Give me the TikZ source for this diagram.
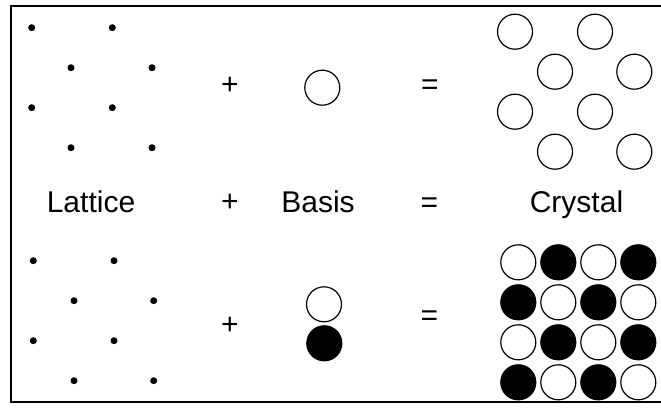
\documentclass[tikz,border=0pt]{standalone}
\usepackage{fontspec}
\setmainfont{Liberation Sans}
\begin{document}
\begin{tikzpicture}[x=1pt,y=-1pt,
  dot/.style={circle,fill=black,inner sep=0pt,minimum size=7pt},
  atom/.style={circle,draw=black,line width=1.2pt,inner sep=0pt,minimum size=35pt},
  batom/.style={atom,fill=black},
  lbl/.style={font=\fontsize{30}{36}\selectfont,inner sep=0pt},
  frameline/.style={line width=2.5pt,line join=miter}]
\useasboundingbox (0,0) rectangle (661,412);
\draw[frameline] (672,6) -- (11,6) -- (11,402) -- (672,402);

% top lattice
\foreach \y [count=\r] in {27.7,67.7,107.7,147.7}{
  \ifodd\r
    \node[dot] (tl\r a) at (31.7,\y) {};
    \node[dot] (tl\r b) at (112.3,\y) {};
  \else
    \node[dot] (tl\r a) at (71,\y) {};
    \node[dot] (tl\r b) at (152,\y) {};
  \fi
}
% bottom lattice
\foreach \y [count=\r] in {260.7,300.7,340.7,380.7}{
  \ifodd\r
    \node[dot] (bl\r a) at (33.3,\y) {};
    \node[dot] (bl\r b) at (114,\y) {};
  \else
    \node[dot] (bl\r a) at (74,\y) {};
    \node[dot] (bl\r b) at (153.7,\y) {};
  \fi
}
% top crystal
\foreach \y [count=\r] in {31.7,71.7,111.7,151.7}{
  \ifodd\r
    \node[atom] (tc\r a) at (515,\y) {};
    \node[atom] (tc\r b) at (595,\y) {};
  \else
    \node[atom] (tc\r a) at (555,\y) {};
    \node[atom] (tc\r b) at (634.3,\y) {};
  \fi
}
% bottom crystal
\foreach \y [count=\r] in {262.3,302.3,342.3,382.3}{
  \foreach \x [count=\c] in {518.3,558.3,598.3,638.3}{
    \pgfmathparse{int(mod(\r+\c,2))}
    \ifnum\pgfmathresult=0
      \node[atom] (bc\r\c) at (\x,\y) {};
    \else
      \node[batom] (bc\r\c) at (\x,\y) {};
    \fi
  }
}
% basis
\node[atom] (basisA) at (322.3,87.7) {};
\node[atom] (basisW) at (324,304.3) {};
\node[batom] (basisB) at (324.3,343.3) {};

% operators
\node[lbl] (plus1) at (230,86) {+};
\node[lbl] (plus2) at (230,203) {+};
\node[lbl] (plus3) at (230,326) {+};
\node[lbl] (eq1) at (430,87) {=};
\node[lbl] (eq2) at (429.5,205) {=};
\node[lbl] (eq3) at (429.5,318) {=};

% labels
\node[lbl,anchor=base] (lattice) at (91,212) {Lattice};
\node[lbl,anchor=base] (basis) at (318,212) {Basis};
\node[lbl,anchor=base] (crystal) at (576.5,212) {Crystal};
\end{tikzpicture}
\end{document}
